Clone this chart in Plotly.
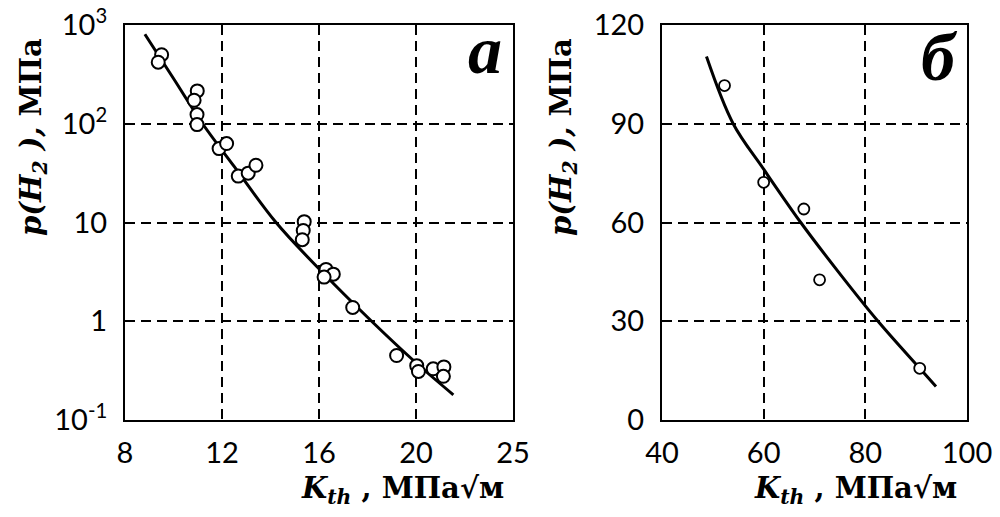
import plotly.graph_objects as go

# ---- Panel a (log scale) ----
a_x = [9.51, 9.37, 10.98, 10.85, 10.97, 10.97, 11.88, 12.19, 12.67, 13.08, 13.40,
       15.39, 15.35, 15.31, 16.29, 16.59, 16.21, 17.39, 19.20, 20.03, 20.10, 20.71,
       21.15, 21.13]
a_y = [500, 420, 215, 173, 124, 98, 56, 63, 29.5, 31.6, 38,
       10.2, 8.3, 6.7, 3.35, 3.0, 2.8, 1.38, 0.45, 0.355, 0.31, 0.33,
       0.345, 0.277]
a_curve_x = [8.82, 10.0, 11.2, 12.5, 14.23, 16.0, 18.17, 20.0, 21.54]
a_curve_y = [805, 287, 100, 37, 10, 3.4, 1.0, 0.38, 0.18]
a_xticks = [8, 12, 16, 20, 24]
a_xticklabels = ["8", "12", "16", "20", "25"]
a_yticks = [0.1, 1, 10, 100, 1000]
a_yticklabels = ["10<sup>-1</sup>", "1", "10", "10<sup>2</sup>", "10<sup>3</sup>"]

# ---- Panel b (linear) ----
b_x = [52.3, 60.0, 67.9, 71.0, 90.7]
b_y = [101.6, 72.2, 64.1, 42.6, 15.7]
b_curve_x = [48.75, 54.0, 60.0, 67.3, 75.0, 82.5, 90.7, 93.9]
b_curve_y = [110.4, 90.0, 76.2, 60.0, 44.4, 30.0, 15.7, 10.2]
b_xticks = [40, 60, 80, 100]
b_yticks = [0, 30, 60, 90, 120]

fig = go.Figure()
fig.add_trace(go.Scatter(x=a_curve_x, y=a_curve_y, mode="lines", line=dict(color="black", width=3, shape="spline"),
                         xaxis="x", yaxis="y", showlegend=False))
fig.add_trace(go.Scatter(x=a_x, y=a_y, mode="markers",
                         marker=dict(symbol="circle", size=13, color="white", line=dict(color="black", width=2)),
                         xaxis="x", yaxis="y", showlegend=False))
fig.add_trace(go.Scatter(x=b_curve_x, y=b_curve_y, mode="lines", line=dict(color="black", width=3, shape="spline"),
                         xaxis="x2", yaxis="y2", showlegend=False))
fig.add_trace(go.Scatter(x=b_x, y=b_y, mode="markers",
                         marker=dict(symbol="circle", size=11, color="white", line=dict(color="black", width=1.8)),
                         xaxis="x2", yaxis="y2", showlegend=False))

tickfont = dict(family="Lato", size=29, color="black")
common = dict(showline=True, linecolor="black", linewidth=2, mirror=True, ticks="",
              showgrid=True, gridcolor="black", gridwidth=1.5, griddash="10px,6px",
              zeroline=False, tickfont=tickfont, automargin=False)
ydom = [1 - 420 / 517, 1 - 25 / 517]

fig.update_layout(
    width=1000, height=517, margin=dict(l=0, r=0, t=0, b=0, autoexpand=False),
    paper_bgcolor="white", plot_bgcolor="white",
    xaxis=dict(domain=[0.125, 0.513], range=[8, 24], tickvals=a_xticks, ticktext=a_xticklabels,
               anchor="y", ticklabelstandoff=6, **common),
    yaxis=dict(domain=ydom, type="log", range=[-1, 3], tickvals=a_yticks, ticktext=a_yticklabels,
               anchor="x", ticklabelstandoff=10, **common),
    xaxis2=dict(domain=[0.662, 0.967], range=[40, 100], tickvals=b_xticks,
                anchor="y2", ticklabelstandoff=6, **common),
    yaxis2=dict(domain=ydom, range=[0, 120], tickvals=b_yticks,
                anchor="x2", ticklabelstandoff=10, **common),
)

tfont = dict(family="DejaVu Serif", size=29, color="black")
ytitle = "<b><i>p(H<sub>2</sub> ),</i> МПа</b>"
xtitle = "<b><i>K<sub>th</sub></i> , МПа√м</b>"
ann = [
    dict(x=0.033, y=1 - 137 / 517, text=ytitle, textangle=-90),
    dict(x=0.563, y=1 - 137 / 517, text=ytitle, textangle=-90),
    dict(x=0.402, y=1 - 490 / 517, text=xtitle),
    dict(x=0.855, y=1 - 490 / 517, text=xtitle),
]
for a in ann:
    fig.add_annotation(xref="paper", yref="paper", showarrow=False, xanchor="center", yanchor="middle",
                       font=tfont, **a)
lfont = dict(family="Liberation Serif", size=68, color="black")
fig.add_annotation(xref="paper", yref="paper", x=0.485, y=1 - 50 / 517, text="<b><i>а</i></b>",
                   showarrow=False, xanchor="center", yanchor="middle", font=lfont)
fig.add_annotation(xref="paper", yref="paper", x=0.939, y=1 - 57 / 517, text="<b><i>б</i></b>",
                   showarrow=False, xanchor="center", yanchor="middle", font=lfont)

fig.write_html("out.html")
